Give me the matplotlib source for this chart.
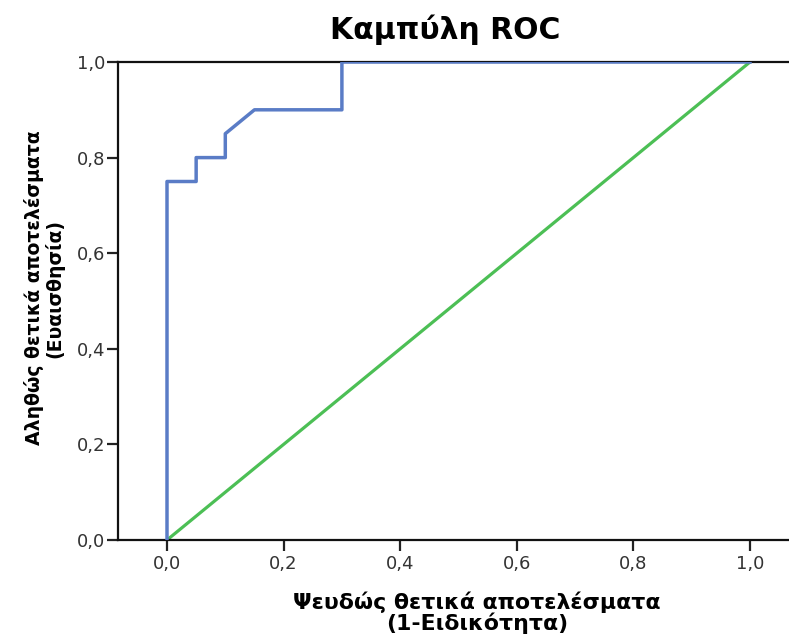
import matplotlib.pyplot as plt

# ROC curve points (1 - specificity, sensitivity)
fpr = [0.0, 0.0, 0.05, 0.05, 0.10, 0.10, 0.15, 0.30, 0.30, 1.0]
tpr = [0.0, 0.75, 0.75, 0.80, 0.80, 0.85, 0.90, 0.90, 1.0, 1.0]
ref_line = [0.0, 1.0]
ticks = [0.0, 0.2, 0.4, 0.6, 0.8, 1.0]
tick_labels = ['0,0', '0,2', '0,4', '0,6', '0,8', '1,0']

plt.rcParams['font.family'] = ['DejaVu Sans']

W, H = 789, 638
fig = plt.figure(figsize=(W / 100, H / 100), dpi=100)
ax = fig.add_axes([118 / W, 1 - 540 / H, (W - 118) / W, (540 - 62) / H])

ax.plot(ref_line, ref_line, color='#4cbf55', lw=2.3, zorder=2)
ax.plot(fpr, tpr, color='#5a7cc6', lw=2.5, zorder=3)

x0 = 167
px = 583.0
ax.set_xlim((118 - x0) / px, (W - x0) / px)
ax.set_ylim(0, 1)

ax.set_xticks(ticks)
ax.set_xticklabels(tick_labels)
ax.set_yticks(ticks)
ax.set_yticklabels(tick_labels)
ax.tick_params(axis='both', direction='out', length=8, width=1.6, colors='#222222',
               labelsize=13, labelcolor='#333333')
ax.tick_params(axis='x', pad=3)
ax.tick_params(axis='y', pad=1)

ax.spines['right'].set_visible(False)
for s in ['left', 'top', 'bottom']:
    ax.spines[s].set_linewidth(1.6)
    ax.spines[s].set_color('#111111')

fig.text(445 / W, 1 - 30 / H, 'Καμπύλη ROC', ha='center', va='center',
         fontsize=21.5, fontweight='bold')
fig.text(477 / W, 1 - 613 / H, 'Ψευδώς θετικά αποτελέσματα\n(1-Ειδικότητα)',
         ha='center', va='center', fontsize=15.8, fontweight='bold', linespacing=0.98)
fig.text(44 / W, 1 - 288 / H, 'Αληθώς θετικά αποτελέσματα\n(Ευαισθησία)',
         ha='center', va='center', rotation=90, fontsize=13.6, fontweight='bold',
         linespacing=1.05)

fig.savefig('out.png', dpi=100)
